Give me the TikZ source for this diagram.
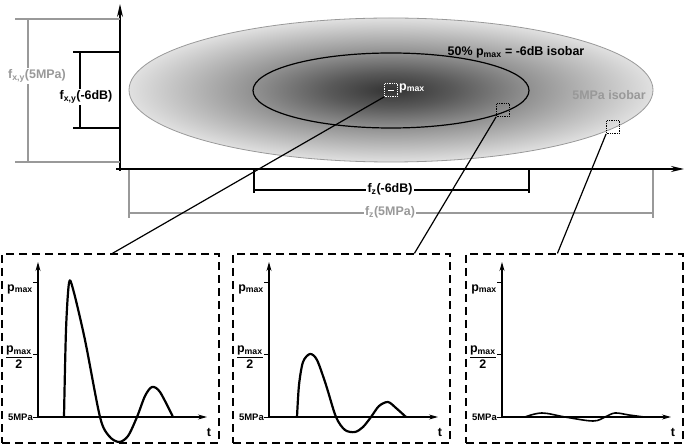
\documentclass[tikz,border=0pt]{standalone}
\usepackage{amsmath}
\usepackage{fontspec}
\setmainfont{Liberation Sans}
\usepackage{xcolor}
\usetikzlibrary{arrows.meta}
\definecolor{isogray}{gray}{0.6}
\pgfdeclareradialshading{isobar}{\pgfpoint{0bp}{0bp}}{color(0bp)=(black!80); color(6bp)=(black!65); color(12.5bp)=(black!45); color(25bp)=(black!12); color(50bp)=(black!12)}

\begin{document}
\begin{tikzpicture}[
    x=1bp, y=-1bp,
    every node/.style={font=\bfseries\fontsize{12.5}{14}\selectfont},
    small/.style={font=\bfseries\fontsize{9.5}{11}\selectfont},
    bigaxis/.style={line width=1.4bp, -{Stealth[length=13bp,width=6bp]}},
    paxis/.style={line width=1.1bp, -{Stealth[length=9bp,width=5bp]}},
    dimline/.style={line width=1.5bp},
    dimlabel/.style={fill=white, inner sep=1.5bp},
    probe/.style={draw, densely dotted, minimum size=13bp, inner sep=0pt, line width=0.8bp},
    panel/.style={draw, dash pattern=on 8bp off 5bp, line width=1.2bp,
                  minimum width=217bp, minimum height=189bp, inner sep=0pt},
    link/.style={line width=1.2bp},
    wave/.style={line width=2.2bp, line join=round},
    ticklab/.style={anchor=east, inner sep=1bp}
  ]
  \useasboundingbox (0,0) rectangle (685,447);
  % Focal zone
  \shadedraw[shading=isobar, draw=isogray, line width=0.8bp] (391,90) ellipse [x radius=262, y radius=72];
  \draw[line width=1.2bp] (391,90.5) ellipse [x radius=138, y radius=37.5];
  \node[probe, draw=white] (pbox) at (391,90) {};
  \draw[white, line width=0.8bp] (388,90) -- (394,90);
  \node[white, anchor=west, inner sep=0pt] (plab) at (399,88) {p\textsubscript{max}};
  \node[probe] (nearbox) at (503,110) {};
  \node[probe] (farbox) at (613,127) {};
  \node (halflab) at (516,52) {50\% p\textsubscript{max} = -6dB isobar};
  \node[text=isogray] (isolab) at (609,95) {5MPa isobar};
  % Axes
  \draw[bigaxis] (120,171) -- (120,4);
  \draw[bigaxis, line width=1.8bp] (116,169) -- (684,169);
  % Lateral widths
  \draw[dimline, isogray] (15,19) -- (120,19) (15,162) -- (120,162) (28,19) -- (28,162);
  \node[dimlabel, text=isogray] (fxy5) at (37,76) {f\textsubscript{x,y}(5MPa)};
  \draw[dimline] (73,52) -- (120,52) (73,128) -- (120,128) (80,52) -- (80,128);
  \node[dimlabel] (fxy6) at (86,97) {f\textsubscript{x,y}(-6dB)};
  % Axial lengths
  \draw[dimline] (254,169) -- (254,193) (529,169) -- (529,193) (254,190) -- (529,190);
  \node[dimlabel] (fz6) at (390,189) {f\textsubscript{z}(-6dB)};
  \draw[dimline, isogray] (129,170) -- (129,218) (653,170) -- (653,218) (129,213) -- (653,213);
  \node[dimlabel, text=isogray] (fz5) at (390,212) {f\textsubscript{z}(5MPa)};
  % Pressure at the focus
  \begin{scope}[xshift=0bp]
    \node[panel] (waveA) at (110.5,348.5) {};
    \draw[paxis] (38,418) -- (38,262);
    \draw[paxis] (38,417) -- (207,417);
    \draw[line width=1bp] (33,283) -- (38,283) (33,354) -- (38,354) (33,417) -- (38,417);
    \node[ticklab] (pmaxA) at (34,289) {p\textsubscript{max}};
    \node[ticklab] (phalfA) at (34,357) {$\dfrac{\text{p\textsubscript{max}}}{\text{2}}$};
    \node[ticklab, small] (baseA) at (34,417) {5MPa};
    \node (tA) at (209,432) {t};
    \draw[wave] plot[smooth, tension=0.5] coordinates {(64,417) (66,330) (69,283) (73,289) (85,340) (100,417) (109,436) (119,442) (128,436) (137,417) (145,396) (152,387) (160,392) (173,417)};
  \end{scope}
  % Pressure on the -6dB isobar
  \begin{scope}[xshift=231bp]
    \node[panel] (waveB) at (110.5,348.5) {};
    \draw[paxis] (38,418) -- (38,262);
    \draw[paxis] (38,417) -- (207,417);
    \draw[line width=1bp] (33,283) -- (38,283) (33,354) -- (38,354) (33,417) -- (38,417);
    \node[ticklab] (pmaxB) at (34,289) {p\textsubscript{max}};
    \node[ticklab] (phalfB) at (34,357) {$\dfrac{\text{p\textsubscript{max}}}{\text{2}}$};
    \node[ticklab, small] (baseB) at (34,417) {5MPa};
    \node (tB) at (209,432) {t};
    \draw[wave] plot[smooth, tension=0.5] coordinates {(66,417) (68,385) (72,362) (79,354) (86,360) (95,385) (105,417) (114,430) (124,432) (132,427) (140,417) (148,406) (157,402) (165,408) (175,417)};
  \end{scope}
  % Pressure on the 5MPa isobar
  \begin{scope}[xshift=464bp]
    \node[panel] (waveC) at (110.5,348.5) {};
    \draw[paxis] (38,418) -- (38,262);
    \draw[paxis] (38,417) -- (207,417);
    \draw[line width=1bp] (33,283) -- (38,283) (33,354) -- (38,354) (33,417) -- (38,417);
    \node[ticklab] (pmaxC) at (34,289) {p\textsubscript{max}};
    \node[ticklab] (phalfC) at (34,357) {$\dfrac{\text{p\textsubscript{max}}}{\text{2}}$};
    \node[ticklab, small] (baseC) at (34,417) {5MPa};
    \node (tC) at (209,432) {t};
    \draw[wave, line width=1.6bp] plot[smooth, tension=0.6] coordinates {(61,417) (78,413) (101,417) (129,421) (141,417) (151,413) (165,415) (180,417)};
  \end{scope}
  % Links
  \draw[link] (pbox.south west) -- ([xshift=111bp]waveA.north west);
  \draw[link] (nearbox.south west) -- ([xshift=182bp]waveB.north west);
  \draw[link] (farbox.south west) -- ([xshift=92bp]waveC.north west);
\end{tikzpicture}
\end{document}
